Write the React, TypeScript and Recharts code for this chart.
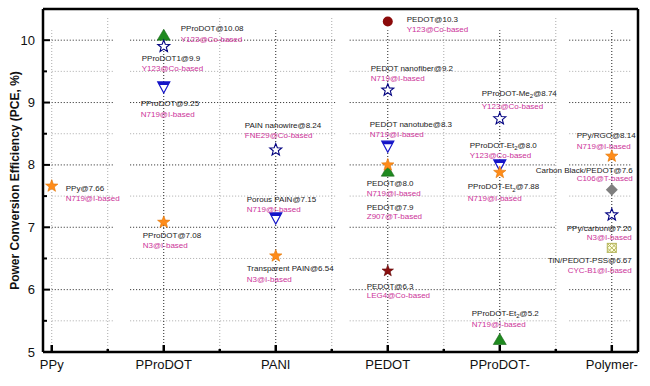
import React from 'react';
import { ScatterChart, Scatter, XAxis, YAxis, ReferenceLine, Label } from 'recharts';

const categories = ['PPy', 'PProDOT', 'PANI', 'PEDOT', 'PProDOT-', 'Polymer-'];
const xTicks = [1, 1.5, 2, 2.5, 3, 3.5, 4, 4.5, 5, 5.5, 6];
const yTicks = [5, 5.5, 6, 6.5, 7, 7.5, 8, 8.5, 9, 9.5, 10];

// orange filled stars
const orangeStarCats = ['PPy', 'PProDOT', 'PANI', 'PEDOT', 'PProDOT-', 'Polymer-'];
const orangeStarPce = [7.66, 7.08, 6.54, 8.0, 7.88, 8.14];
const orangeStarNames = ['PPy@7.66', 'PProDOT@7.08', 'Transparent PAIN@6.54', 'PEDOT@8.0', 'PProDOT-Et2@7.88', 'PPy/RGO@8.14'];
const orangeStarDyes = ['N719@I-based', 'N3@I-based', 'N3@I-based', 'N719@I-based', 'N719@I-based', 'N719@I-based'];

// hollow navy stars
const navyStarCats = ['PProDOT', 'PANI', 'PEDOT', 'PProDOT-', 'Polymer-'];
const navyStarPce = [9.9, 8.24, 9.2, 8.74, 7.2];
const navyStarNames = ['PProDOT1@9.9', 'PAIN nanowire@8.24', 'PEDOT nanofiber@9.2', 'PProDOT-Me2@8.74', 'PPy/carbon@7.20'];
const navyStarDyes = ['Y123@Co-based', 'FNE29@Co-based', 'N719@I-based', 'Y123@Co-based', 'N3@I-based'];

// blue down triangles
const blueDownCats = ['PProDOT', 'PANI', 'PEDOT', 'PProDOT-'];
const blueDownPce = [9.25, 7.15, 8.3, 8.0];
const blueDownNames = ['PProDOT@9.25', 'Porous PAIN@7.15', 'PEDOT nanotube@8.3', 'PProDOT-Et2@8.0'];
const blueDownDyes = ['N719@I-based', 'N719@I-based', 'N719@I-based', 'Y123@Co-based'];

// green up triangles
const greenUpCats = ['PProDOT', 'PEDOT', 'PProDOT-'];
const greenUpPce = [10.08, 7.9, 5.2];
const greenUpNames = ['PProDOT@10.08', 'PEDOT@7.9', 'PProDOT-Et2@5.2'];
const greenUpDyes = ['Y123@Co-based', 'Z907@T-based', 'N719@I-based'];

const redCircleCats = ['PEDOT'];
const redCirclePce = [10.3];
const redCircleNames = ['PEDOT@10.3'];
const redCircleDyes = ['Y123@Co-based'];

const redStarCats = ['PEDOT'];
const redStarPce = [6.3];
const redStarNames = ['PEDOT@6.3'];
const redStarDyes = ['LEG4@Co-based'];

const grayDiamondCats = ['Polymer-'];
const grayDiamondPce = [7.6];
const grayDiamondNames = ['Carbon Black/PEDOT@7.6'];
const grayDiamondDyes = ['C106@T-based'];

const khakiBoxCats = ['Polymer-'];
const khakiBoxPce = [6.67];
const khakiBoxNames = ['TiN/PEDOT-PSS@6.67'];
const khakiBoxDyes = ['CYC-B1@I-based'];

// label placement relative to the marker: [dx, line1 dy, line2 dy, anchor]
const orangeStarPlace = [[14, 2, 12], [-21, 13, 23], [-29, 12, 23], [-21, 18, 28], [-32, 14, 26], [-35, -21, -10]];
const navyStarPlace = [[-22, 12, 22], [-31, -25, -15], [-17, -22, -12], [-18, -26, -13], [20, 13, 22, 'end']];
const blueDownPlace = [[-23, 16, 27], [-29, -19, -9], [-18, -22, -12], [-30, -20, -10]];
const greenUpPlace = [[17, -7, 4], [-21, 36, 45], [-28, -27, -16]];
const redCirclePlace = [[19, -2, 8]];
const redStarPlace = [[-21, 15, 24]];
const grayDiamondPlace = [[21, -20, -12, 'end']];
const khakiBoxPlace = [[20, 12, 22, 'end']];

const FONT = '"Liberation Sans", Arial, sans-serif';

const toPoints = (cats: string[], pce: number[], names: string[], dyes: string[]) =>
  cats.map((c, i) => ({ x: categories.indexOf(c) + 1, y: pce[i], name: names[i], dye: dyes[i], i }));

const series = [
  { kind: 'greenUp', data: toPoints(greenUpCats, greenUpPce, greenUpNames, greenUpDyes), place: greenUpPlace },
  { kind: 'blueDown', data: toPoints(blueDownCats, blueDownPce, blueDownNames, blueDownDyes), place: blueDownPlace },
  { kind: 'navyStar', data: toPoints(navyStarCats, navyStarPce, navyStarNames, navyStarDyes), place: navyStarPlace },
  { kind: 'redCircle', data: toPoints(redCircleCats, redCirclePce, redCircleNames, redCircleDyes), place: redCirclePlace },
  { kind: 'redStar', data: toPoints(redStarCats, redStarPce, redStarNames, redStarDyes), place: redStarPlace },
  { kind: 'grayDiamond', data: toPoints(grayDiamondCats, grayDiamondPce, grayDiamondNames, grayDiamondDyes), place: grayDiamondPlace },
  { kind: 'khakiBox', data: toPoints(khakiBoxCats, khakiBoxPce, khakiBoxNames, khakiBoxDyes), place: khakiBoxPlace },
  { kind: 'orangeStar', data: toPoints(orangeStarCats, orangeStarPce, orangeStarNames, orangeStarDyes), place: orangeStarPlace },
];

function starPath(cx: number, cy: number, R: number, r: number) {
  let d = '';
  for (let k = 0; k < 10; k++) {
    const rad = k % 2 === 0 ? R : r;
    const a = -Math.PI / 2 + (k * Math.PI) / 5;
    d += (k === 0 ? 'M' : 'L') + (cx + rad * Math.cos(a)).toFixed(2) + ',' + (cy + rad * Math.sin(a)).toFixed(2);
  }
  return d + 'Z';
}

function Marker({ kind, cx, cy }: { kind: string; cx: number; cy: number }) {
  switch (kind) {
    case 'orangeStar':
      return <path d={starPath(cx, cy, 6.5, 2.7)} fill="#ff8c1a" stroke="#e27400" strokeWidth={0.6} />;
    case 'navyStar':
      return <path d={starPath(cx, cy, 6.3, 2.7)} fill="#fff" stroke="#000080" strokeWidth={1.1} />;
    case 'redStar':
      return <path d={starPath(cx, cy, 6, 2.5)} fill="#8b1010" stroke="#5a0000" strokeWidth={0.6} />;
    case 'blueDown':
      return (
        <g>
          <polygon points={`${cx - 6},${cy - 5} ${cx + 6},${cy - 5} ${cx},${cy + 6}`} fill="#fff" stroke="#1414c8" strokeWidth={1.2} />
          <polygon points={`${cx - 6},${cy - 5} ${cx + 6},${cy - 5} ${cx + 4.4},${cy - 2} ${cx - 4.4},${cy - 2}`} fill="#1414c8" />
        </g>
      );
    case 'greenUp':
      return <polygon points={`${cx},${cy - 6} ${cx + 6.5},${cy + 5} ${cx - 6.5},${cy + 5}`} fill="#1f8a1f" stroke="#166316" strokeWidth={0.6} />;
    case 'redCircle':
      return <circle cx={cx} cy={cy} r={5} fill="#8b0a0a" />;
    case 'grayDiamond':
      return <polygon points={`${cx},${cy - 6} ${cx + 6},${cy} ${cx},${cy + 6} ${cx - 6},${cy}`} fill="#7f7f7f" />;
    case 'khakiBox':
      return (
        <g fill="none" stroke="#b5b55a" strokeWidth={1}>
          <rect x={cx - 4.5} y={cy - 4.5} width={9} height={9} fill="#ffffe0" />
          <line x1={cx - 4.5} y1={cy - 4.5} x2={cx + 4.5} y2={cy + 4.5} />
          <line x1={cx + 4.5} y1={cy - 4.5} x2={cx - 4.5} y2={cy + 4.5} />
          <polygon points={`${cx},${cy - 4.5} ${cx + 4.5},${cy} ${cx},${cy + 4.5} ${cx - 4.5},${cy}`} />
        </g>
      );
    default:
      return null;
  }
}

// "Et2" / "Me2" get a subscript 2
function renderName(name: string) {
  const m = name.match(/^(.*?(?:Et|Me))2(@.*)$/);
  if (!m) return name;
  return [
    <tspan key="a">{m[1]}</tspan>,
    <tspan key="b" dy={2.5} fontSize={6}>2</tspan>,
    <tspan key="c" dy={-2.5}>{m[2]}</tspan>,
  ];
}

function makeShape(kind: string, place: any[]) {
  return (props: any) => {
    const { cx, cy, payload } = props;
    const [dx, dy1, dy2, anchor = 'start'] = place[payload.i];
    return (
      <g>
        <Marker kind={kind} cx={cx} cy={cy} />
        <g fontFamily={FONT} fontSize={8}>
          <text x={cx + dx} y={cy + dy1 + 3} textAnchor={anchor} fill="#1a1a1a">{renderName(payload.name)}</text>
          <text x={cx + dx} y={cy + dy2 + 3} textAnchor={anchor} fill="#cc3399">{payload.dye}</text>
        </g>
      </g>
    );
  };
}

const YTick = ({ x, y, payload }: any) => {
  const v = payload.value;
  const major = Number.isInteger(v);
  return (
    <g>
      <line x1={x} x2={x + (major ? 7 : 4)} y1={y} y2={y} stroke="#000" strokeWidth={2} />
      {major && (
        <text x={x - 8} y={y + 4.5} textAnchor="end" fontSize={13} fontFamily={FONT} fill="#111">{v}</text>
      )}
    </g>
  );
};

const XTick = ({ x, y, payload }: any) => {
  const v = payload.value;
  const major = Number.isInteger(v);
  return (
    <g>
      <line x1={x} x2={x} y1={y} y2={y - (major ? 7 : 3)} stroke="#000" strokeWidth={2.5} />
      {major && (
        <text x={x} y={y + 17} textAnchor="middle" fontSize={13} fontFamily={FONT} fill="#111">{categories[v - 1]}</text>
      )}
    </g>
  );
};

const renderYTitle = (props: any) => {
  const { viewBox } = props;
  const cx = viewBox.x + 15;
  const cy = viewBox.y + viewBox.height / 2;
  return (
    <text x={cx} y={cy} transform={`rotate(-90 ${cx} ${cy})`} textAnchor="middle" dominantBaseline="central"
      fontSize={12} fontWeight="bold" fontFamily={FONT} fill="#111">
      Power Conversion Efficiency (PCE, %)
    </text>
  );
};

// horizontal grid lines are broken into pieces, as in the original figure
const hGridPieces = [[1.0, 1.56], [1.7, 3.53], [3.66, 5.5], [5.62, 6.17]];
const hGridValues = [5.5, 6, 6.5, 7, 7.5, 8, 8.5, 9, 9.5, 10];
const vGridValues = [1, 1.5, 2, 2.5, 3, 3.5, 4, 4.5, 5, 5.5, 6];

export default function App() {
  return (
    <div style={{ position: 'absolute', left: 0, top: 0, width: 650, height: 386, background: '#fff' }}>
      <ScatterChart width={650} height={386} margin={{ top: 9, right: 12, bottom: 3, left: 0 }}>
        <XAxis
          type="number"
          dataKey="x"
          domain={[0.922, 6.234]}
          allowDataOverflow
          ticks={xTicks}
          interval={0}
          tick={<XTick />}
          tickLine={false}
          tickSize={0}
          tickMargin={0}
          height={31}
          axisLine={{ stroke: '#000', strokeWidth: 2.5 }}
        />
        <YAxis
          type="number"
          dataKey="y"
          domain={[5, 10.5]}
          allowDataOverflow
          ticks={yTicks}
          interval={0}
          tick={<YTick />}
          tickLine={false}
          tickSize={0}
          tickMargin={0}
          width={43}
          axisLine={{ stroke: '#000', strokeWidth: 2.5 }}
        >
          <Label content={renderYTitle} />
        </YAxis>
        {hGridValues.map((v) =>
          hGridPieces.map(([a, b]) => (
            <ReferenceLine
              key={`h-${v}-${a}`}
              segment={[{ x: a, y: v }, { x: b, y: v }]}
              stroke={Number.isInteger(v) ? '#222' : '#aaa'}
              strokeDasharray="1 2"
              strokeWidth={1}
            />
          ))
        )}
        {vGridValues.map((v) => (
          <ReferenceLine
            key={`v-${v}`}
            segment={[{ x: v, y: 5 }, { x: v, y: Number.isInteger(v) ? 10.16 : 10.37 }]}
            stroke={Number.isInteger(v) && v !== 1 ? '#222' : '#aaa'}
            strokeDasharray="1 2"
            strokeWidth={1}
          />
        ))}
        <ReferenceLine y={10.5} stroke="#000" strokeWidth={2.5} ifOverflow="visible" />
        <ReferenceLine x={6.234} stroke="#000" strokeWidth={2.5} ifOverflow="visible" />
        {series.map((s) => (
          <Scatter key={s.kind} data={s.data} isAnimationActive={false} shape={makeShape(s.kind, s.place)} />
        ))}
      </ScatterChart>
    </div>
  );
}
